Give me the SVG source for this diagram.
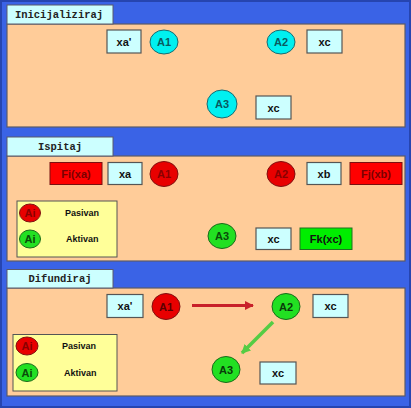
<svg xmlns="http://www.w3.org/2000/svg" width="411" height="408" viewBox="0 0 411 408">
<defs>
<style>
.bg{fill:#3A63E6;stroke:#2645B0;stroke-width:2}
.panel{fill:#FFCC99;stroke:#5A5A6A;stroke-width:1.2}
.tab{fill:#CCFFFF;stroke:#5A5A6A;stroke-width:1}
.tabt{font-family:"Liberation Mono",monospace;font-weight:bold;font-size:10.5px;fill:#222;text-anchor:middle}
.box{fill:#CCFFFF;stroke:#555;stroke-width:1.2}
.rbox{fill:#FF0000;stroke:#7A1010;stroke-width:1}
.gbox{fill:#00EE00;stroke:#207020;stroke-width:1}
.lbl{font-family:"Liberation Sans",Arial,sans-serif;font-weight:bold;font-size:11px;fill:#111;text-anchor:middle;dominant-baseline:central}
.rl{fill:#7A0000}
.cy{fill:#00F0F0;stroke:#1A6A70;stroke-width:1}
.rd{fill:#E80000;stroke:#801010;stroke-width:1}
.gr{fill:#22E022;stroke:#1A6A1A;stroke-width:1}
.ct{font-family:"Liberation Sans",Arial,sans-serif;font-weight:bold;font-size:11px;text-anchor:middle;dominant-baseline:central}
.leg{fill:#FFFF99;stroke:#555;stroke-width:1}
.lt{font-family:"Liberation Sans",Arial,sans-serif;font-weight:bold;font-size:9px;fill:#111;dominant-baseline:central}
</style>
<marker id="ah-red" viewBox="0 0 10 10" refX="9" refY="5" markerWidth="3" markerHeight="3" orient="auto"><path d="M0,0 L10,5 L0,10 z" fill="#C8202A"/></marker>
<marker id="ah-green" viewBox="0 0 10 10" refX="9" refY="5" markerWidth="2.6" markerHeight="2.6" orient="auto"><path d="M0,0 L10,5 L0,10 z" fill="#55CC44"/></marker>
</defs>
<rect class="bg" x="1" y="1" width="409" height="406"/>

<g id="panel-inicijaliziraj">
<rect class="panel" x="7" y="24" width="398" height="103"/>
<rect class="tab" x="7" y="5" width="106" height="19"/>
<text class="tabt" x="59" y="18">Inicijaliziraj</text>
</g>
<g id="p1-xa"><rect class="box" x="107" y="30" width="34" height="23"/><text class="lbl" x="124" y="41.5">xa'</text></g>
<g id="p1-A1"><ellipse class="cy" cx="164" cy="42" rx="14" ry="12"/><text class="ct" x="164" y="42" fill="#0A5A60">A1</text></g>
<g id="p1-A2"><ellipse class="cy" cx="281" cy="42" rx="14" ry="12"/><text class="ct" x="281" y="42" fill="#0A5A60">A2</text></g>
<g id="p1-xc1"><rect class="box" x="307" y="30" width="35" height="23"/><text class="lbl" x="324.5" y="41.5">xc</text></g>
<g id="p1-A3"><ellipse class="cy" cx="222" cy="104" rx="15" ry="14"/><text class="ct" x="222" y="104" fill="#0A5A60">A3</text></g>
<g id="p1-xc2"><rect class="box" x="256" y="96" width="35" height="23"/><text class="lbl" x="273.5" y="107.5">xc</text></g>

<g id="panel-ispitaj">
<rect class="panel" x="7" y="156" width="398" height="105"/>
<rect class="tab" x="7" y="137" width="106" height="19"/>
<text class="tabt" x="60" y="150">Ispitaj</text>
</g>
<g id="p2-Fi"><rect class="rbox" x="50" y="162.5" width="52" height="22"/><text class="lbl rl" x="76" y="173.5">Fi(xa)</text></g>
<g id="p2-xa"><rect class="box" x="108" y="162.5" width="34" height="22"/><text class="lbl" x="125" y="173.5">xa</text></g>
<g id="p2-A1"><ellipse class="rd" cx="164" cy="174" rx="14" ry="12.5"/><text class="ct" x="164" y="174" fill="#8A0000">A1</text></g>
<g id="p2-A2"><ellipse class="rd" cx="281" cy="174" rx="14" ry="12.5"/><text class="ct" x="281" y="174" fill="#8A0000">A2</text></g>
<g id="p2-xb"><rect class="box" x="307" y="162.5" width="34" height="22"/><text class="lbl" x="324" y="173.5">xb</text></g>
<g id="p2-Fj"><rect class="rbox" x="350" y="162.5" width="52" height="22"/><text class="lbl rl" x="376" y="173.5">Fj(xb)</text></g>
<g id="p2-legend">
<rect class="leg" x="17" y="201" width="100" height="56"/>
<ellipse class="rd" cx="30" cy="213" rx="10.5" ry="9"/><text class="ct" x="30" y="213" font-size="9" fill="#8A0000">Ai</text>
<text class="lt" x="65" y="213">Pasivan</text>
<ellipse class="gr" cx="30" cy="239" rx="10.5" ry="9"/><text class="ct" x="30" y="239" font-size="9" fill="#0A4A0A">Ai</text>
<text class="lt" x="66" y="239">Aktivan</text>
</g>
<g id="p2-A3"><ellipse class="gr" cx="222" cy="236" rx="14" ry="12.5"/><text class="ct" x="222" y="236" fill="#0A4A0A">A3</text></g>
<g id="p2-xc"><rect class="box" x="256" y="228" width="35" height="21.5"/><text class="lbl" x="273.5" y="238.5">xc</text></g>
<g id="p2-Fk"><rect class="gbox" x="300" y="228" width="52" height="21.5"/><text class="lbl" x="326" y="238.5">Fk(xc)</text></g>

<g id="panel-difundiraj">
<rect class="panel" x="7" y="288" width="398" height="108"/>
<rect class="tab" x="7" y="269.5" width="106" height="18.5"/>
<text class="tabt" x="60" y="282">Difundiraj</text>
</g>
<g id="p3-xa"><rect class="box" x="107" y="294.5" width="36" height="23"/><text class="lbl" x="125" y="306" font-size="12">xa'</text></g>
<g id="p3-A1"><ellipse class="rd" cx="166" cy="306.5" rx="14" ry="13"/><text class="ct" x="166" y="306.5" font-size="12" fill="#5A0000">A1</text></g>
<g id="p3-A2"><ellipse class="gr" cx="286" cy="306.5" rx="14" ry="13"/><text class="ct" x="286" y="306.5" font-size="12" fill="#0A3A0A">A2</text></g>
<g id="p3-xc1"><rect class="box" x="313" y="294.5" width="35" height="23"/><text class="lbl" x="330.5" y="306">xc</text></g>
<g id="p3-A3"><ellipse class="gr" cx="226" cy="369.5" rx="14" ry="13"/><text class="ct" x="226" y="369.5" font-size="12" fill="#0A3A0A">A3</text></g>
<g id="p3-xc2"><rect class="box" x="260" y="362" width="36" height="22"/><text class="lbl" x="278" y="373">xc</text></g>
<g id="p3-legend">
<rect class="leg" x="13" y="334.5" width="104" height="56.5"/>
<ellipse class="rd" cx="27" cy="346" rx="11" ry="9"/><text class="ct" x="27" y="346" font-size="9" fill="#8A0000">Ai</text>
<text class="lt" x="62" y="346">Pasivan</text>
<ellipse class="gr" cx="27" cy="372.5" rx="11" ry="9"/><text class="ct" x="27" y="372.5" font-size="9" fill="#0A4A0A">Ai</text>
<text class="lt" x="64" y="373">Aktivan</text>
</g>

<g id="connectors">
<line x1="192" y1="305.5" x2="253" y2="305.5" stroke="#C8202A" stroke-width="3" marker-end="url(#ah-red)"/>
<line x1="273" y1="322" x2="242" y2="353" stroke="#55CC44" stroke-width="3.5" marker-end="url(#ah-green)"/>
</g>
</svg>
